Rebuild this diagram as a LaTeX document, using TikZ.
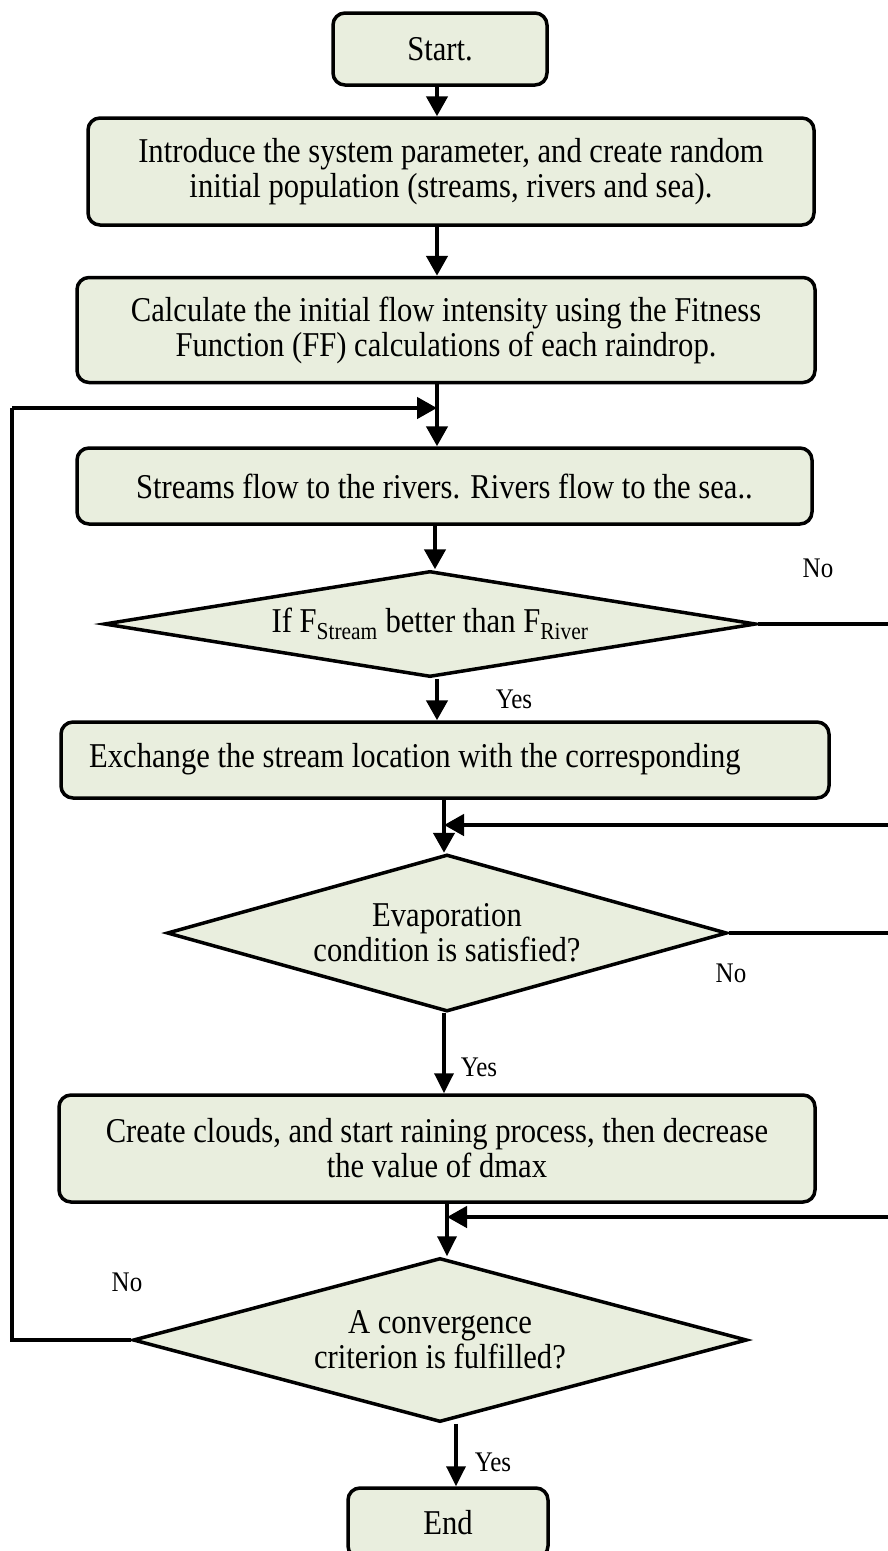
\documentclass[tikz,border=0pt]{standalone}
\usepackage{fontspec}
\setmainfont{Liberation Serif}[FakeStretch=0.88]
\usetikzlibrary{shapes.geometric,arrows.meta}
\definecolor{boxfill}{RGB}{233,238,222}
\begin{document}
\begin{tikzpicture}[x=1pt,y=-1pt,
  every node/.style={font=\fontsize{34.8}{35}\selectfont},
  box/.style={draw=black, fill=boxfill, line width=3.5pt, rounded corners=12pt, inner sep=0pt, align=center},
  dec/.style={draw=black, fill=boxfill, line width=3.5pt, diamond, inner sep=0pt, align=center},
  arr/.style={line width=4.5pt, -{Triangle[length=20pt,width=21pt]}},
  arrs/.style={line width=3.5pt, -{Triangle[length=20pt,width=19pt]}},
  ln/.style={line width=4.5pt},
  nolbl/.style={font=\fontsize{28.4}{30}\selectfont, inner sep=0pt},
  yeslbl/.style={font=\fontsize{28.4}{30}\selectfont, inner sep=0pt}
]
\useasboundingbox (0,0) rectangle (888,1551);
\clip (0,0) rectangle (888,1551);
\fill[white] (0,0) rectangle (888,1551);

% nodes
\node[box, minimum width=214pt, minimum height=72pt] (start) at (440,49) {Start.};
\node[box, minimum width=726pt, minimum height=107pt] (intro) at (451,171.5)
  {Introduce the system parameter, and create random\\initial population (streams, rivers and sea).};
\node[box, minimum width=738pt, minimum height=105pt] (calc) at (446,330)
  {Calculate the initial flow intensity using the Fitness\\Function (FF) calculations of each raindrop.};
\node[box, minimum width=735pt, minimum height=76pt] (stream) at (444.5,486)
  {Streams flow to the rivers. Rivers flow to the sea..};
\node[dec, minimum width=652pt, minimum height=106pt, aspect=6.15] (d1) at (430,624)
  {If F\textsubscript{Stream} better than F\textsubscript{River}};
\node[box, minimum width=768pt, minimum height=76pt] (exch) at (445,760) {};
\node[anchor=base west, inner sep=0pt] (exchtxt) at (89,767)
  {Exchange the stream location with the corresponding};
\node[dec, minimum width=560pt, minimum height=157pt, aspect=3.57] (d2) at (447,933)
  {Evaporation\\condition is satisfied?};
\node[box, minimum width=756pt, minimum height=107pt] (create) at (437,1148.5)
  {Create clouds, and start raining process, then decrease\\the value of dmax};
\node[dec, minimum width=614pt, minimum height=164pt, aspect=3.74] (d3) at (440,1340)
  {A convergence\\criterion is fulfilled?};
\node[box, minimum width=200pt, minimum height=70pt] (end) at (448,1523) {End};

% helper coordinates
\coordinate (xa) at (437,0);
\coordinate (xb) at (435,0);
\coordinate (xc) at (444,0);
\coordinate (xd) at (447,0);
\coordinate (xe) at (456,0);
\coordinate (lft) at (12,0);
\coordinate (rgt) at (910,0);
\coordinate (j1) at (437,408);
\coordinate (j2) at (444,825);
\coordinate (j3) at (447,1217);

% connectors
\draw[arr] (start.south -| xa) -- (intro.north -| xa);
\draw[arr] (intro.south -| xa) -- (calc.north -| xa);
\draw[arr] (calc.south -| xa) -- (stream.north -| xa);
\draw[arr] (stream.south -| xb) -- (d1.north -| xb);
\draw[arr] (d1.south -| xa) -- (exch.north -| xa);
\draw[ln] (d1.east) -- (d1.east -| rgt) -- (j2 -| rgt);
\draw[arr] (j2 -| rgt) -- (j2);
\draw[arr] (exch.south -| xc) -- (d2.north -| xc);
\draw[ln] (d2.east) -- (d2.east -| rgt) -- (j3 -| rgt);
\draw[arr] (j3 -| rgt) -- (j3);
\draw[arrs] (d2.south -| xc) -- (create.north -| xc);
\draw[arrs] (create.south -| xd) -- (d3.north -| xd);
\draw[arrs] (d3.south -| xe) -- (end.north -| xe);
\draw[ln] (d3.west) -- (d3.west -| lft) -- (j1 -| lft);
\draw[arr] (j1 -| lft) -- (j1);

% labels
\node[nolbl] (no1) at (818,568) {No};
\node[yeslbl] (yes1) at (514,699) {Yes};
\node[nolbl] (no2) at (731,973) {No};
\node[yeslbl] (yes2) at (479,1067) {Yes};
\node[nolbl] (no3) at (127,1282) {No};
\node[yeslbl] (yes3) at (493,1462) {Yes};
\end{tikzpicture}
\end{document}
